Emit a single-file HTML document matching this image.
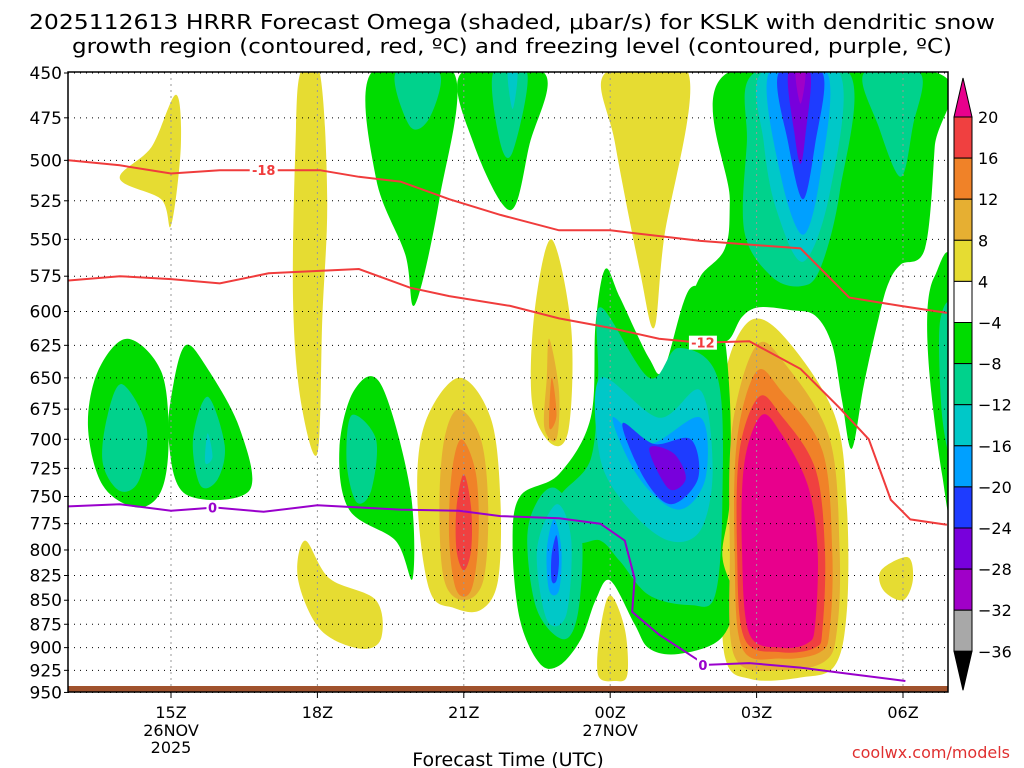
<!DOCTYPE html>
<html><head><meta charset="utf-8"><style>
html,body{margin:0;padding:0;background:#fff;}
svg{display:block;font-family:"DejaVu Sans","Liberation Sans",sans-serif;}
</style></head><body>
<svg id="chart" width="1024" height="768" viewBox="0 0 1024 768" xmlns="http://www.w3.org/2000/svg">
<defs><clipPath id="plotclip"><rect x="68" y="72" width="880" height="620"/></clipPath></defs>
<text x="512" y="29" text-anchor="middle" font-size="20" textLength="966" lengthAdjust="spacingAndGlyphs">2025112613 HRRR Forecast Omega (shaded, μbar/s) for KSLK with dendritic snow</text>
<text x="512" y="53" text-anchor="middle" font-size="20" textLength="880" lengthAdjust="spacingAndGlyphs">growth region (contoured, red, ºC) and freezing level (contoured, purple, ºC)</text>
<g id="shading" clip-path="url(#plotclip)"></g>
<g id="grid"></g>
<g id="lines" clip-path="url(#plotclip)"></g>
<rect x="68" y="686" width="880" height="6" fill="#a0522d"/>
<rect x="68" y="72" width="880" height="620" fill="none" stroke="#000" stroke-width="1.5"/>
<g id="axes"></g>
<g id="cbar"></g>
<text x="508" y="766" text-anchor="middle" font-size="19">Forecast Time (UTC)</text>
<text x="1010" y="758" text-anchor="end" font-size="16" fill="#e03030">coolwx.com/models</text>
</svg>
<script>
// ---- data ----
const pTicks=[450,475,500,525,550,575,600,625,650,675,700,725,750,775,800,825,850,875,900,925,950];
const tTicks=[15,18,21,24,27,30];
const tTickLabels=["15Z","18Z","21Z","00Z","03Z","06Z"];
const cbLevels=[20,16,12,8,4,-4,-8,-12,-16,-20,-24,-28,-32,-36];
const cbColors=["#f04040","#f08228","#e6af32","#e6dc32","#ffffff","#00dc00","#00d28c","#00c8c8","#00a0ff","#1e3cff","#7800dc","#a000c8","#a8a8a8"];
const shapeLevels=[4,4,4,4,8,12,16,4,8,12,4,4,4,4,8,12,16,20,
 -4,-8,-4,-8,-12,-4,-8,-4,-8,-12,-4,-8,
 -4,-4,-4,-8,-12,-16,-20,-24,-8,-12,-16,-20,
 -8,-12,-16,-20,-24,-8,-8,-28];
const shapePts=[
 [[15.1,462],[15.2,492],[15.0,541],[14.8,524],[13.95,511],[14.6,492]],
 [[17.65,450],[18.05,450],[18.2,524],[18.1,605],[18.0,712],[17.65,666],[17.5,590],[17.55,492]],
 [[17.75,791],[18.25,828],[19.2,850],[19.3,891],[18.85,901],[18.05,880],[17.6,828]],
 [[20.9,650],[21.55,682],[21.75,753],[21.7,830],[21.35,860],[20.8,858],[20.3,840],[20.05,753],[20.2,687]],
 [[20.9,675],[21.35,700],[21.5,760],[21.4,830],[21.0,850],[20.6,830],[20.5,760],[20.6,700]],
 [[20.95,700],[21.25,730],[21.3,790],[21.15,840],[20.85,840],[20.7,790],[20.75,730]],
 [[21.0,730],[21.15,760],[21.15,800],[21.0,820],[20.85,800],[20.85,760]],
 [[22.8,550],[23.2,612],[23.15,691],[22.8,704],[22.4,670],[22.45,600]],
 [[22.75,620],[22.95,660],[22.9,700],[22.65,690],[22.7,650]],
 [[22.8,650],[22.9,680],[22.75,690]],
 [[23.9,450],[25.6,450],[25.1,550],[24.9,612],[24.6,570],[24.1,490]],
 [[24.0,845],[24.3,880],[24.35,930],[24.1,937],[23.75,930],[23.8,880]],
 [[30.1,807],[30.2,830],[30.0,850],[29.6,840],[29.55,820]],
 [[26.9,606],[27.6,620],[28.6,680],[28.85,760],[28.85,860],[28.6,920],[27.9,933],[26.9,935],[26.35,910],[26.3,800],[26.35,700],[26.4,640]],
 [[27.0,625],[27.6,640],[28.5,700],[28.7,800],[28.65,880],[28.4,915],[27.5,925],[26.55,910],[26.45,800],[26.5,690]],
 [[27.0,645],[27.5,660],[28.35,710],[28.55,800],[28.5,880],[28.3,905],[27.5,912],[26.7,900],[26.55,800],[26.6,700]],
 [[27.05,665],[27.5,680],[28.2,725],[28.4,800],[28.35,880],[28.2,900],[27.5,905],[26.75,890],[26.6,800],[26.65,710]],
 [[27.1,680],[27.5,695],[28.05,740],[28.25,800],[28.2,875],[28.05,895],[27.5,900],[26.85,885],[26.7,800],[26.75,720]],
 [[14.1,620],[14.8,645],[14.95,700],[14.8,745],[14.3,760],[13.6,740],[13.3,690],[13.5,645]],
 [[14.0,655],[14.5,690],[14.35,735],[13.95,745],[13.6,720],[13.7,680]],
 [[15.3,625],[15.7,640],[16.4,690],[16.6,745],[15.3,748],[14.95,700],[15.05,655]],
 [[15.75,665],[16.1,705],[15.95,735],[15.6,740],[15.45,700]],
 [[15.75,695],[15.85,715],[15.7,720]],
 [[19.1,450],[20.8,450],[20.5,524],[20.0,595],[19.8,560],[19.2,511]],
 [[19.6,450],[20.5,450],[20.3,475],[19.9,480]],
 [[20.95,450],[22.65,450],[22.35,490],[21.95,531],[21.2,490]],
 [[21.6,450],[22.3,450],[22.0,495],[21.75,490]],
 [[21.9,450],[22.1,450],[22.0,470]],
 [[19.3,655],[19.9,743],[19.95,828],[19.6,791],[18.65,762],[18.45,708],[18.75,660]],
 [[18.7,680],[19.2,700],[19.1,745],[18.8,755],[18.6,720]],
 [[23.9,570],[24.2,590],[24.8,635],[25.1,643],[25.65,583],[26.25,605],[26.45,666],[26.45,753],[26.3,806],[26.55,850],[26.25,891],[25.4,907],[24.8,901],[24.5,875],[24.0,830],[23.7,850],[23.4,891],[22.95,920],[22.55,917],[22.15,870],[22.0,796],[22.15,750],[22.95,730],[23.6,682],[23.7,609]],
 [[26.4,450],[30.7,450],[30.65,492],[30.45,556],[29.95,567],[29.7,580],[29.5,605],[29.2,655],[28.95,708],[28.75,668],[28.55,625],[28.2,603],[27.7,599],[27.05,597],[26.7,604],[26.45,620],[26.15,623],[25.85,612],[25.65,597],[25.85,575],[26.35,556],[26.45,524]],
 [[30.65,575],[31.0,570],[31.0,760],[30.8,730],[30.55,650],[30.5,600]],
 [[23.8,597],[24.8,650],[25.4,627],[26.2,650],[26.3,753],[26.15,845],[25.65,855],[24.8,845],[24.2,811],[23.8,791],[23.3,791],[22.95,753],[23.6,717],[23.75,650]],
 [[23.8,650],[25.0,682],[25.85,660],[26.1,726],[25.85,781],[25.2,791],[24.4,762],[23.8,717]],
 [[24.05,682],[24.8,704],[25.85,682],[25.95,734],[25.4,762],[24.6,734]],
 [[24.25,687],[24.9,704],[25.65,700],[25.8,734],[25.25,757],[24.7,734]],
 [[24.8,708],[25.3,712],[25.55,734],[25.2,743]],
 [[22.9,743],[23.4,780],[23.35,860],[23.05,891],[22.5,860],[22.3,791],[22.5,755]],
 [[22.9,757],[23.2,790],[23.1,865],[22.7,870],[22.5,800]],
 [[22.85,771],[23.0,800],[22.95,840],[22.75,840],[22.7,800]],
 [[22.9,786],[22.95,810],[22.9,830],[22.8,830],[22.8,805]],
 [[26.95,450],[28.9,450],[28.7,520],[28.3,570],[27.9,582],[27.3,575],[26.75,545],[26.8,490]],
 [[27.1,450],[28.7,450],[28.5,520],[27.95,565],[27.4,530],[27.15,490]],
 [[27.25,450],[28.45,450],[28.3,510],[27.95,547],[27.5,510]],
 [[27.45,450],[28.35,450],[28.2,490],[27.95,524],[27.65,490]],
 [[27.65,450],[28.1,450],[28.0,485],[27.9,502],[27.78,485]],
 [[29.2,450],[30.35,450],[30.2,480],[29.95,510],[29.5,480]],
 [[30.75,610],[31.0,600],[31.0,710],[30.8,680]],
 [[27.8,450],[28.0,450],[27.9,467]]
];
const iso18=[[12.9,500],[13.95,503],[15.0,508],[16.0,506],[16.8,506],[18.05,506],[18.85,510],[19.7,513],[20.7,524],[21.75,534],[22.95,544],[24.0,544],[25.85,551],[27.9,556],[28.9,590],[29.95,596],[30.9,601]];
const iso12=[[12.9,578],[13.95,575],[15.0,577],[16.0,580],[17.0,573],[18.85,570],[19.9,583],[20.7,589],[21.95,596],[22.95,605],[24.0,612],[25.0,620],[25.85,623],[26.85,622],[27.9,643],[28.7,674],[29.3,700],[29.75,753],[30.15,771],[30.9,776]];
const iso0=[[12.9,759],[13.95,757],[15.0,763],[15.9,760],[16.9,764],[18.0,758],[19.7,762],[20.9,763],[21.75,768],[22.95,770],[23.8,775],[24.3,791],[24.5,828],[24.45,862],[25.0,886],[25.95,919],[26.85,917],[27.9,922],[28.9,929],[30.05,937]];
const isoLabels=[["-18",16.9,506,"#f03c3c"],["-12",25.9,623,"#f03c3c"],["0",15.85,760,"#9900cc"],["0",25.9,919,"#9900cc"]];

// ---- scales ----
const NS="http://www.w3.org/2000/svg";
const X=h=>171+(h-15)*48.8;
const Y=p=>73+829*Math.log(p/450);
function colorFor(v){
 if(v>20) return "#e8008c";
 for(let i=0;i<cbLevels.length-1;i++){ if(v<=cbLevels[i]&&v>=cbLevels[i+1]) return cbColors[i]; }
 return "#000";
}
function mk(tag,attrs,parent){const e=document.createElementNS(NS,tag);for(const k in attrs)e.setAttribute(k,attrs[k]);parent.appendChild(e);return e;}
function smoothClosed(pts){
 const P=pts.map(q=>[X(q[0]),Y(q[1])]);const n=P.length;
 let d="M"+P[0][0].toFixed(1)+","+P[0][1].toFixed(1);
 for(let i=0;i<n;i++){const p0=P[(i-1+n)%n],p1=P[i],p2=P[(i+1)%n],p3=P[(i+2)%n];
  const c1=[p1[0]+(p2[0]-p0[0])/6,p1[1]+(p2[1]-p0[1])/6],c2=[p2[0]-(p3[0]-p1[0])/6,p2[1]-(p3[1]-p1[1])/6];
  d+="C"+c1[0].toFixed(1)+","+c1[1].toFixed(1)+" "+c2[0].toFixed(1)+","+c2[1].toFixed(1)+" "+p2[0].toFixed(1)+","+p2[1].toFixed(1);}
 return d+"Z";
}
// shading
const sh=document.getElementById("shading");
const order=[];
shapeLevels.forEach((v,i)=>order.push(i));
order.sort((a,b)=>Math.abs(shapeLevels[a])-Math.abs(shapeLevels[b]));
order.forEach(i=>{
 const e=mk("path",{d:smoothClosed(shapePts[i]),fill:colorFor(shapeLevels[i]>0?shapeLevels[i]+0.5:shapeLevels[i]-0.5)},sh);
 
 
});
// grid
const g=document.getElementById("grid");
pTicks.forEach(p=>{const e=mk("line",{x1:68,x2:948,y1:Y(p),y2:Y(p),stroke:"#000","stroke-width":1,"stroke-dasharray":"1 5"},g);
 
 });
tTicks.forEach(t=>{const e=mk("line",{x1:X(t),x2:X(t),y1:72,y2:692,stroke:"#999","stroke-width":1,"stroke-dasharray":"2 4"},g);
 
 });
// lines
const L=document.getElementById("lines");
function poly(arr,col,name){const e=mk("polyline",{points:arr.map(q=>X(q[0]).toFixed(1)+","+Y(q[1]).toFixed(1)).join(" "),fill:"none",stroke:col,"stroke-width":2},L);
 
 }
poly(iso18,"#f03c3c","isotherm-minus18");
poly(iso12,"#f03c3c","isotherm-minus12");
poly(iso0,"#9900cc","freezing-level-line");
isoLabels.forEach(l=>{const x=X(l[1]),y=Y(l[2]);const w=l[0].length*8+4;
 const r=mk("rect",{x:x-w/2,y:y-7,width:w,height:14,fill:"#fff"},L);
 
 
 const t=mk("text",{x:x,y:y+5,"text-anchor":"middle","font-size":13,"font-weight":"bold",fill:l[3]},L);t.textContent=l[0];
 
 });
// axes
const A=document.getElementById("axes");
pTicks.forEach(p=>{const t=mk("text",{x:62,y:Y(p)+6,"text-anchor":"end","font-size":17},A);t.textContent=p;
 
 
 const k=mk("line",{x1:64,x2:68,y1:Y(p),y2:Y(p),stroke:"#000"},A);
 
 });
tTicks.forEach((t,i)=>{const e=mk("text",{x:X(t),y:718,"text-anchor":"middle","font-size":16},A);e.textContent=tTickLabels[i];
 
 
 const k=mk("line",{x1:X(t),x2:X(t),y1:692,y2:698,stroke:"#000"},A);
 
 });
[["26NOV",15,736],["2025",15,753],["27NOV",24,736]].forEach(d=>{const e=mk("text",{x:X(d[1]),y:d[2],"text-anchor":"middle","font-size":16},A);e.textContent=d[0];
 
 });
// colorbar
const C=document.getElementById("cbar");
const cbX=954,cbW=18,cbTop=117,cbStep=41.1;
const tri=mk("polygon",{points:`${cbX},${cbTop} ${cbX+cbW},${cbTop} ${cbX+cbW/2},78`,fill:"#e8008c",stroke:"#000"},C);


cbColors.forEach((c,i)=>{const r=mk("rect",{x:cbX,y:cbTop+i*cbStep,width:cbW,height:cbStep,fill:c,stroke:"#000","stroke-width":1},C);
 
 });
const cbBot=cbTop+cbColors.length*cbStep;
const tri2=mk("polygon",{points:`${cbX},${cbBot} ${cbX+cbW},${cbBot} ${cbX+cbW/2},${cbBot+39}`,fill:"#000",stroke:"#000"},C);


cbLevels.forEach((v,i)=>{const t=mk("text",{x:978,y:cbTop+i*cbStep+6,"font-size":16},C);t.textContent=v<0?"\u2212"+(-v):v;
 
 });
</script>
</body></html>
